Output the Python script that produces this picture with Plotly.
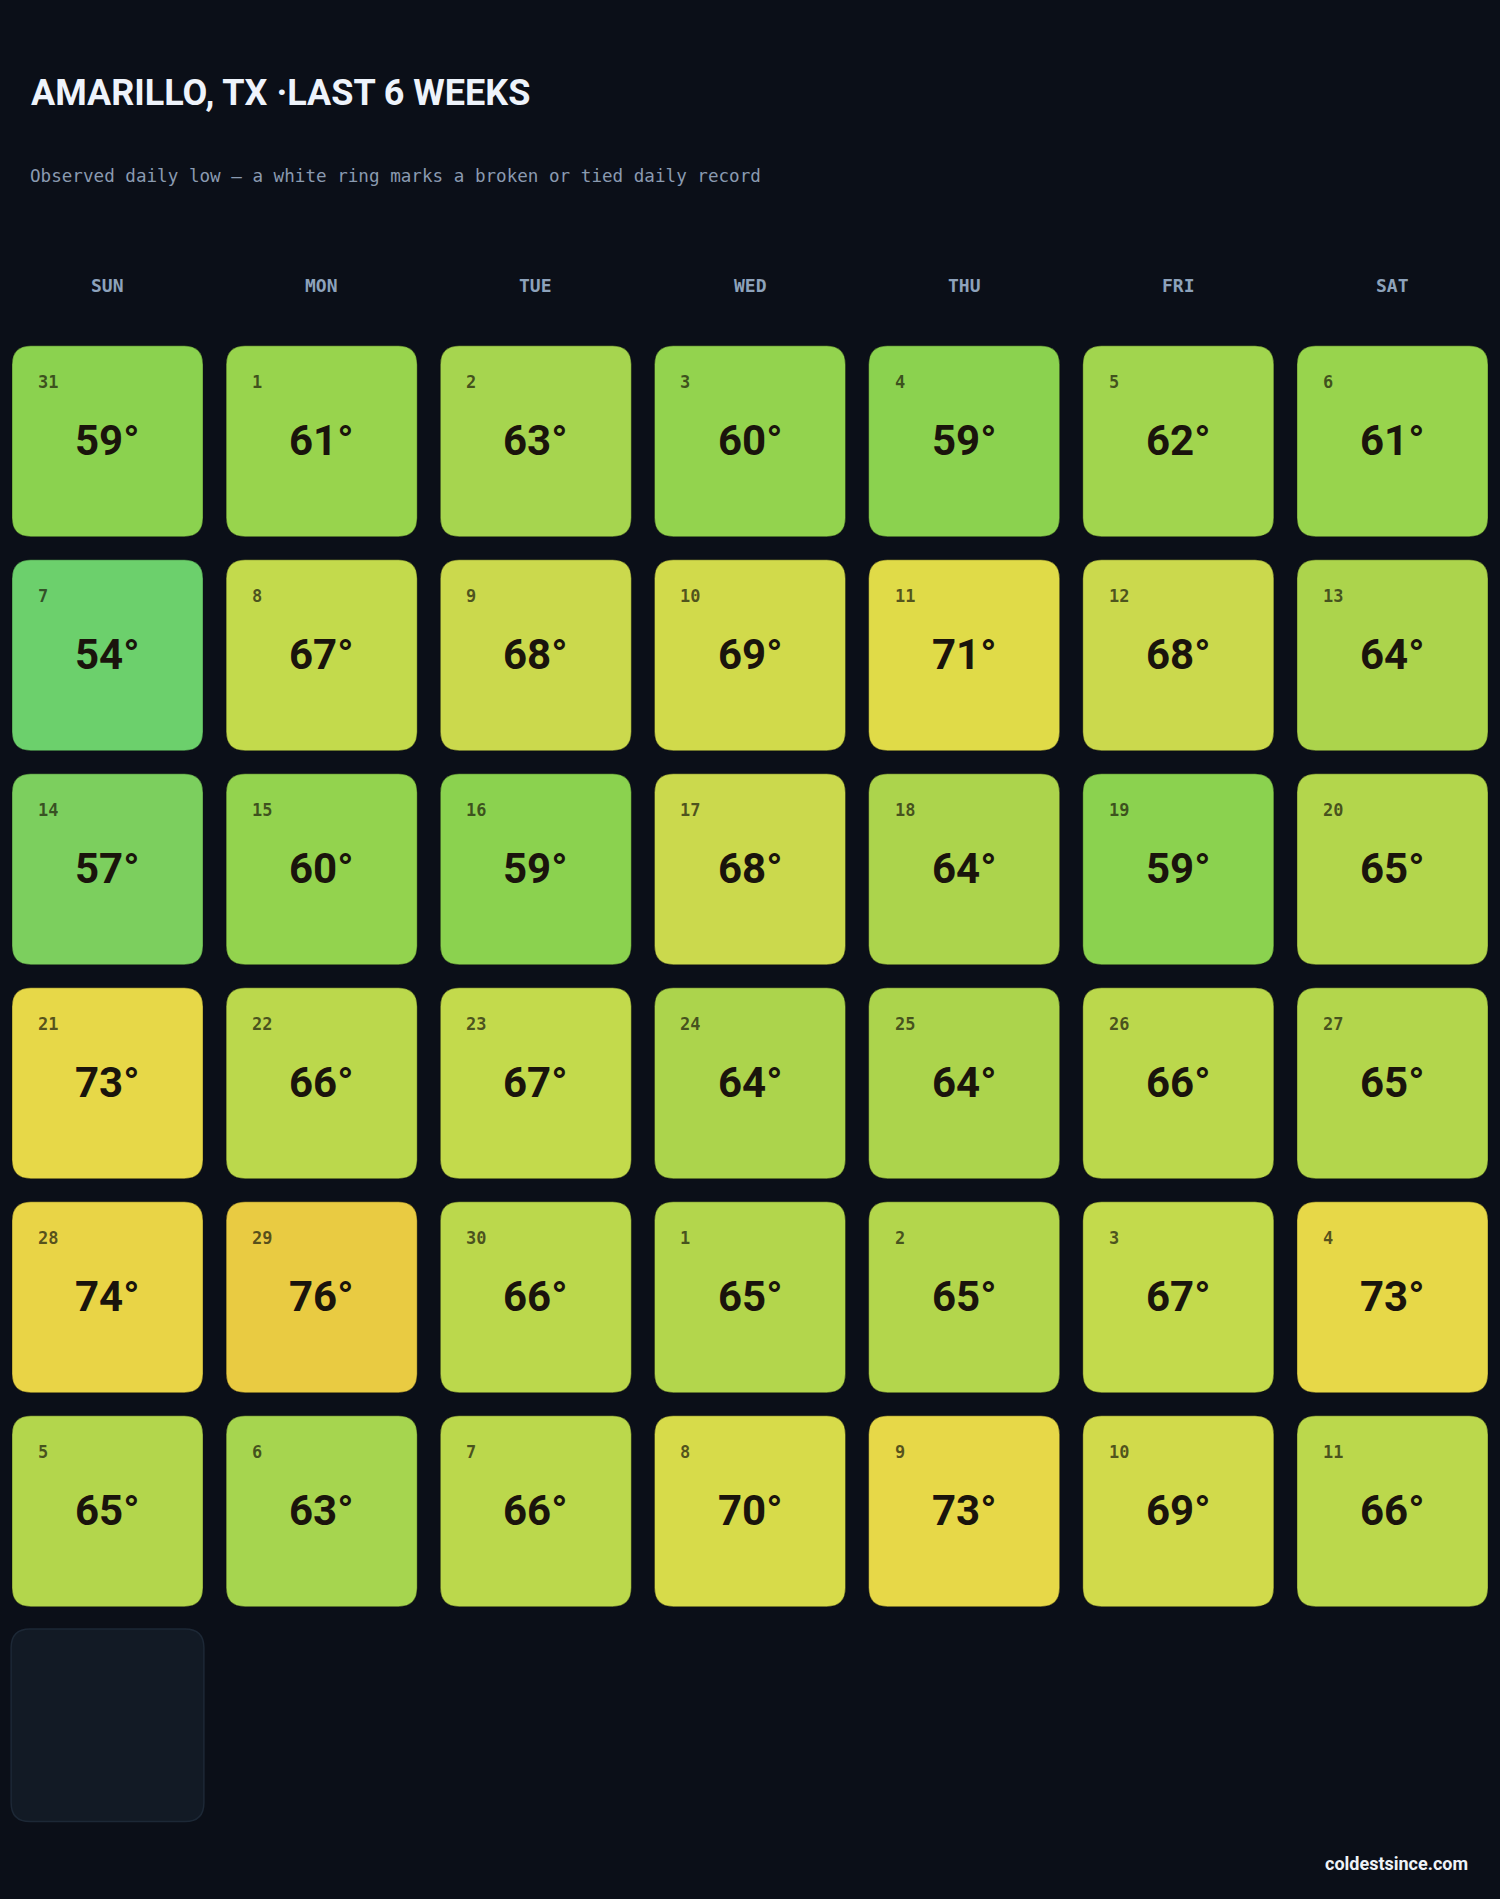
import plotly.graph_objects as go

# ---------------- data ----------------
weekdays = ["SUN", "MON", "TUE", "WED", "THU", "FRI", "SAT"]

day_numbers = [
    [31, 1, 2, 3, 4, 5, 6],
    [7, 8, 9, 10, 11, 12, 13],
    [14, 15, 16, 17, 18, 19, 20],
    [21, 22, 23, 24, 25, 26, 27],
    [28, 29, 30, 1, 2, 3, 4],
    [5, 6, 7, 8, 9, 10, 11],
]

daily_lows = [
    [59, 61, 63, 60, 59, 62, 61],
    [54, 67, 68, 69, 71, 68, 64],
    [57, 60, 59, 68, 64, 59, 65],
    [73, 66, 67, 64, 64, 66, 65],
    [74, 76, 66, 65, 65, 67, 73],
    [65, 63, 66, 70, 73, 69, 66],
]

# empty placeholder cells (row, col)
empty_cells = [(6, 0)]

# colour scale (temperature -> fill)
scale_temps = [54, 57, 59, 60, 61, 62, 63, 64, 65, 66, 67, 68, 69, 70, 71, 73, 74, 76]
scale_colors = ["#6cd06c", "#7ccf5e", "#8bd24f", "#93d34e", "#98d44d", "#a1d54e",
                "#a6d54f", "#acd44c", "#b3d64c", "#bbd84c", "#c3da4c", "#cbd94d",
                "#d1da4b", "#d7db4a", "#e0db48", "#e7d848", "#e9d446", "#e9cb42"]

title_text = "AMARILLO, TX ·LAST 6 WEEKS"
subtitle_text = "Observed daily low — a white ring marks a broken or tied daily record"
footer_text = "coldestsince.com"

# ---------------- styling ----------------
W, H = 1500, 1899
BG = "#0b0f18"
HALF = 0.446          # half cell size in data units
RAD = 0.088           # corner radius in data units
color_of = dict(zip(scale_temps, scale_colors))


def rounded_path(cx, cy, h=HALF, r=RAD):
    x0, x1 = cx - h, cx + h
    y0, y1 = cy - h, cy + h
    return (f"M {x0 + r},{y0} L {x1 - r},{y0} Q {x1},{y0} {x1},{y0 + r} "
            f"L {x1},{y1 - r} Q {x1},{y1} {x1 - r},{y1} "
            f"L {x0 + r},{y1} Q {x0},{y1} {x0},{y1 - r} "
            f"L {x0},{y0 + r} Q {x0},{y0} {x0 + r},{y0} Z")


shapes = []
annotations = []
xs, ys, hov = [], [], []

for r, (row_days, row_lows) in enumerate(zip(day_numbers, daily_lows)):
    for c, (d, t) in enumerate(zip(row_days, row_lows)):
        shapes.append(dict(type="path", path=rounded_path(c, r), xref="x", yref="y",
                           fillcolor=color_of[t],
                           line=dict(color="rgba(0,0,0,0.35)", width=1), layer="below"))
        annotations.append(dict(x=c - HALF + 0.112, y=r - HALF + 0.171, xref="x", yref="y",
                                text=f"<b>{d}</b>", showarrow=False, xanchor="left", yanchor="middle",
                                font=dict(family="DejaVu Sans Mono", size=17,
                                          color="rgba(30,32,12,0.72)")))
        annotations.append(dict(x=c, y=r - 0.003, xref="x", yref="y",
                                text=f"<b>{t}°</b>", showarrow=False, xanchor="center",
                                yanchor="middle",
                                font=dict(family="Roboto", size=42, color="#1a140c")))
        xs.append(c)
        ys.append(r)
        hov.append(f"{d}: {t}°")

for (r, c) in empty_cells:
    shapes.append(dict(type="path", path=rounded_path(c, r, h=HALF + 0.004), xref="x", yref="y",
                       fillcolor="#121a25", line=dict(color="#1d2836", width=1.5), layer="below"))

for c, wd in enumerate(weekdays):
    annotations.append(dict(x=c, y=-0.727, xref="x", yref="y", text=f"<b>{wd}</b>",
                            showarrow=False, xanchor="center", yanchor="middle",
                            font=dict(family="DejaVu Sans Mono", size=18, color="#8da2bb")))

annotations.append(dict(x=29 / W, y=1 - 93 / H, xref="paper", yref="paper",
                        text=f"<b>{title_text}</b>", showarrow=False,
                        xanchor="left", yanchor="middle",
                        font=dict(family="Roboto", size=36, color="#eef3fb")))
annotations.append(dict(x=28 / W, y=1 - 175.5 / H, xref="paper", yref="paper",
                        text=subtitle_text, showarrow=False,
                        xanchor="left", yanchor="middle",
                        font=dict(family="DejaVu Sans Mono", size=17.6, color="#8a9ab0")))
annotations.append(dict(x=1470 / W, y=1 - 1863 / H, xref="paper", yref="paper",
                        text=f"<b>{footer_text}</b>", showarrow=False,
                        xanchor="right", yanchor="middle",
                        font=dict(family="Roboto", size=18, color="#eef2f7")))

fig = go.Figure()
fig.add_trace(go.Scatter(x=xs, y=ys, mode="markers", marker=dict(size=60, opacity=0),
                         text=hov, hoverinfo="text", showlegend=False))

fig.update_layout(
    width=W, height=H,
    margin=dict(l=0, r=0, t=0, b=0),
    paper_bgcolor=BG, plot_bgcolor=BG,
    shapes=shapes, annotations=annotations,
    xaxis=dict(range=[-0.502, 6.502], visible=False, fixedrange=True),
    yaxis=dict(range=[6.812, -2.062], visible=False, fixedrange=True),
    showlegend=False,
)

fig.write_html("out.html")
